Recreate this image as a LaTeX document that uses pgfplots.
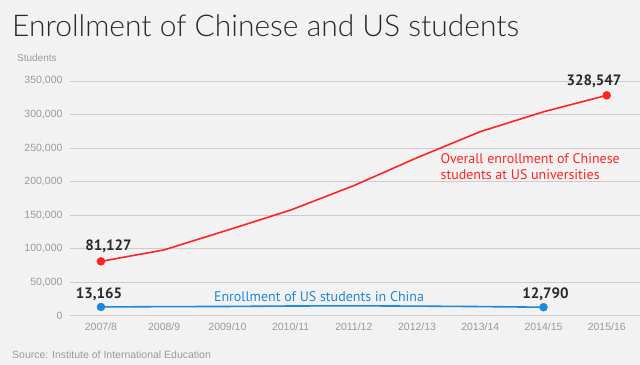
\documentclass[border=0pt]{standalone}
\usepackage{fontspec}
\setmainfont{Liberation Sans}
\newfontfamily\titlefont{Lato Light}
\newfontfamily\labfont{PT Sans}
\usepackage{pgfplots}
\pgfplotsset{compat=1.18}
\definecolor{bg}{HTML}{F2F2F2}
\definecolor{gridc}{HTML}{CCCCCC}
\definecolor{tickc}{HTML}{9A9A9A}
\definecolor{redc}{HTML}{FF2424}
\definecolor{bluec}{HTML}{1E88DC}
\definecolor{darkc}{HTML}{2A2A2A}
\begin{document}
\begin{tikzpicture}[x=1pt,y=1pt]
\fill[bg] (0,0) rectangle (640,365);
\node[anchor=base west,inner sep=0pt,text=darkc] at (12,328) {\titlefont\fontsize{30}{36}\selectfont Enrollment of Chinese and US students};
\node[anchor=base west,inner sep=0pt,text=tickc] at (17,303) {\fontsize{10}{12}\selectfont Students};
\node[anchor=base west,inner sep=0pt,text=tickc] at (12,6) {\fontsize{10.5}{12}\selectfont Source: Institute of International Education};
\begin{axis}[
  at={(70pt,49pt)}, anchor=south west,
  scale only axis, width=570pt, height=235pt,
  xmin=-0.49, xmax=8.52, ymin=0, ymax=350000,
  axis line style={draw=none},
  ymajorgrids, grid style={gridc, line width=0.8pt},
  xtick={0,...,8},
  xticklabels={2007/8,2008/9,2009/10,2010/11,2011/12,2012/13,2013/14,2014/15,2015/16},
  ytick={0,50000,...,350000},
  yticklabel={\pgfmathprintnumber[fixed,1000 sep={,},assume math mode=true]{\tick}},
  tick label style={text=tickc, font=\fontsize{10.5}{12}\selectfont},
  scaled y ticks=false,
  yticklabel style={anchor=east, xshift=-4pt},
  xticklabel style={anchor=north, yshift=-4pt},
  major tick length=0pt,
  clip=false,
]
\addplot[redc, line width=1.6pt] coordinates {
 (0,81127) (1,98235) (2,127628) (3,157558) (4,194029) (5,235597) (6,274439) (7,304040) (8,328547)};
\addplot[redc, only marks, mark=*, mark size=4pt] coordinates {(0,81127) (8,328547)};
\addplot[bluec, line width=1.6pt] coordinates {
 (0,13165) (1,13674) (2,13910) (3,14596) (4,14887) (5,14413) (6,13763) (7,12790)};
\addplot[bluec, only marks, mark=*, mark size=4pt] coordinates {(0,13165) (7,12790)};
\node[text=darkc, font=\labfont\bfseries\fontsize{15}{18}\selectfont, anchor=base] at (axis cs:0.12,98000) {81,127};
\node[text=darkc, font=\labfont\bfseries\fontsize{15}{18}\selectfont, anchor=base] at (axis cs:7.8,343000) {328,547};
\node[text=darkc, font=\labfont\bfseries\fontsize{15}{18}\selectfont, anchor=base] at (axis cs:-0.03,25500) {13,165};
\node[text=darkc, font=\labfont\bfseries\fontsize{15}{18}\selectfont, anchor=base] at (axis cs:7.03,25500) {12,790};
\node[text=bluec, font=\labfont\fontsize{14}{16}\selectfont, anchor=base] at (axis cs:3.45,21500) {Enrollment of US students in China};
\node[text=redc, font=\labfont\fontsize{14}{16}\selectfont, anchor=north west, align=left, inner sep=0pt] at (axis cs:5.37,242000) {Overall enrollment of Chinese\\students at US universities};
\end{axis}
\end{tikzpicture}
\end{document}
